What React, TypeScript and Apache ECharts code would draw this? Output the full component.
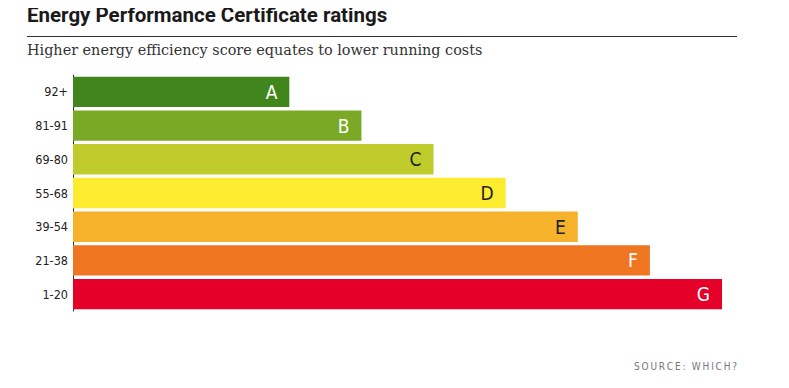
import React, { useEffect, useRef } from "react";
import * as echarts from "echarts";

const categories = ["92+", "81-91", "69-80", "55-68", "39-54", "21-38", "1-20"];
const ratings = ["A", "B", "C", "D", "E", "F", "G"];
const values = [3, 4, 5, 6, 7, 8, 9];
const colors = ["#40861c", "#7aa926", "#bfcc2c", "#fdeb30", "#f6b22a", "#ef7521", "#e40028"];
const labelColors = ["#ffffff", "#ffffff", "#222222", "#222222", "#222222", "#ffffff", "#ffffff"];

const TITLE = "Energy Performance Certificate ratings";
const SUBTITLE = "Higher energy efficiency score equates to lower running costs";
const SOURCE = "SOURCE: WHICH?";

const NARROW = "DejaVu Sans Condensed, Roboto";

export default function App() {
  const ref = useRef<HTMLDivElement>(null);
  useEffect(() => {
    if (!ref.current) return;
    const chart = echarts.init(ref.current, undefined, { renderer: "svg" });
    chart.setOption({
      animation: false,
      backgroundColor: "#ffffff",
      grid: { left: 73, right: 67, top: 75, bottom: 77 },
      xAxis: {
        type: "value",
        min: 0,
        max: 9,
        show: false,
      },
      yAxis: {
        type: "category",
        data: categories,
        inverse: true,
        axisLine: { show: true, lineStyle: { color: "#333333", width: 1 } },
        axisTick: { show: false },
        axisLabel: {
          color: "#222222",
          fontFamily: NARROW,
          fontSize: 12.5,
          margin: 5,
        },
      },
      series: [
        {
          type: "bar",
          barCategoryGap: "10%",
          data: values.map((v, i) => ({
            value: v,
            itemStyle: { color: colors[i] },
            label: {
              show: true,
              position: "insideRight",
              distance: 12,
              formatter: ratings[i],
              color: labelColors[i],
              fontFamily: NARROW,
              fontSize: 19,
            },
          })),
        },
      ],
      graphic: [
        {
          type: "text",
          left: 27,
          top: 4,
          style: {
            text: TITLE,
            fontFamily: "Roboto",
            fontWeight: "bold",
            fontSize: 20.5,
            fill: "#1a1a1a",
          },
        },
        {
          type: "line",
          shape: { x1: 27, y1: 36.5, x2: 737, y2: 36.5 },
          style: { stroke: "#333333", lineWidth: 1 },
        },
        {
          type: "text",
          left: 27,
          top: 43,
          style: {
            text: SUBTITLE,
            fontFamily: "DejaVu Serif",
            fontSize: 14.4,
            fill: "#333333",
          },
        },
        {
          type: "text",
          right: 52,
          top: 361,
          style: {
            text: SOURCE.split("").join("\u2009"),
            fontFamily: NARROW,
            fontSize: 10,
            fill: "#777777",
          },
        },
      ],
    });
    return () => chart.dispose();
  }, []);
  return <div ref={ref} style={{ width: 789, height: 388, margin: -8 }} />;
}
